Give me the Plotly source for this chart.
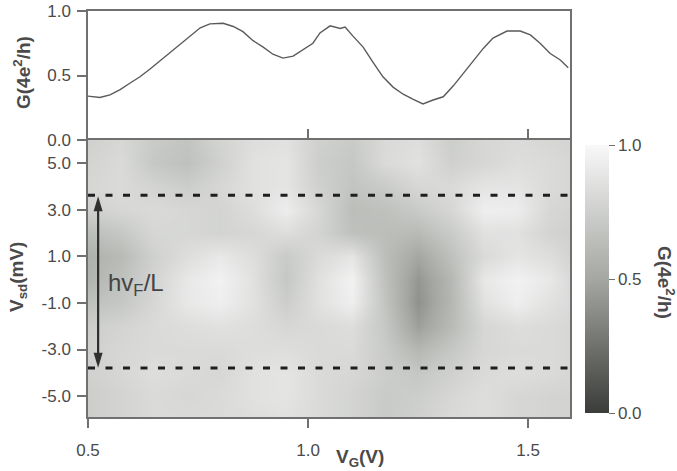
import plotly.graph_objects as go

# ---- data ----
vg_line = [0.500, 0.527, 0.550, 0.573, 0.595, 0.618, 0.641, 0.664, 0.686, 0.709,
           0.732, 0.755, 0.777, 0.807, 0.830, 0.852, 0.875, 0.898, 0.920, 0.943,
           0.966, 0.989, 1.011, 1.027, 1.050, 1.073, 1.084, 1.102, 1.125, 1.148,
           1.170, 1.193, 1.216, 1.239, 1.261, 1.284, 1.307, 1.330, 1.352, 1.375,
           1.398, 1.420, 1.452, 1.482, 1.505, 1.527, 1.550, 1.573, 1.591]
g_line = [0.34, 0.33, 0.35, 0.39, 0.44, 0.49, 0.55, 0.615, 0.67, 0.74,
          0.805, 0.87, 0.90, 0.905, 0.88, 0.84, 0.77, 0.72, 0.665, 0.635,
          0.65, 0.70, 0.75, 0.83, 0.885, 0.865, 0.875, 0.805, 0.72, 0.60,
          0.49, 0.41, 0.355, 0.315, 0.28, 0.31, 0.335, 0.42, 0.515, 0.605,
          0.71, 0.79, 0.845, 0.845, 0.815, 0.75, 0.67, 0.62, 0.56]

vg_grid = [0.50, 0.575, 0.65, 0.725, 0.80, 0.875, 0.95, 1.025, 1.10, 1.175,
           1.25, 1.325, 1.40, 1.475, 1.55, 1.595]
vsd_grid = [6, 5, 4, 3, 2, 1, 0, -1, -2, -3, -4, -5, -6]
g_map = [
    [0.76, 0.80, 0.72, 0.68, 0.78, 0.84, 0.86, 0.76, 0.72, 0.82, 0.84, 0.74, 0.80, 0.82, 0.80, 0.78],
    [0.78, 0.82, 0.70, 0.66, 0.76, 0.86, 0.88, 0.74, 0.70, 0.82, 0.86, 0.76, 0.80, 0.84, 0.82, 0.80],
    [0.80, 0.82, 0.78, 0.74, 0.80, 0.86, 0.88, 0.76, 0.68, 0.72, 0.80, 0.82, 0.88, 0.88, 0.82, 0.80],
    [0.76, 0.80, 0.82, 0.80, 0.78, 0.84, 0.93, 0.80, 0.64, 0.66, 0.72, 0.80, 0.94, 0.93, 0.80, 0.78],
    [0.64, 0.70, 0.80, 0.80, 0.78, 0.80, 0.84, 0.78, 0.66, 0.64, 0.62, 0.72, 0.86, 0.86, 0.78, 0.76],
    [0.56, 0.62, 0.76, 0.84, 0.90, 0.84, 0.72, 0.82, 0.88, 0.64, 0.50, 0.66, 0.82, 0.88, 0.84, 0.78],
    [0.58, 0.66, 0.78, 0.90, 0.96, 0.86, 0.70, 0.86, 0.96, 0.66, 0.42, 0.60, 0.90, 0.96, 0.90, 0.82],
    [0.66, 0.70, 0.80, 0.90, 0.94, 0.86, 0.74, 0.86, 0.94, 0.68, 0.40, 0.60, 0.86, 0.94, 0.86, 0.82],
    [0.74, 0.78, 0.82, 0.84, 0.86, 0.84, 0.80, 0.82, 0.84, 0.70, 0.46, 0.62, 0.80, 0.84, 0.82, 0.80],
    [0.76, 0.80, 0.82, 0.82, 0.82, 0.84, 0.84, 0.82, 0.82, 0.72, 0.60, 0.70, 0.80, 0.82, 0.82, 0.80],
    [0.76, 0.80, 0.84, 0.82, 0.80, 0.86, 0.88, 0.82, 0.80, 0.74, 0.70, 0.76, 0.82, 0.84, 0.82, 0.80],
    [0.74, 0.78, 0.82, 0.80, 0.82, 0.86, 0.88, 0.82, 0.78, 0.72, 0.74, 0.80, 0.84, 0.80, 0.78, 0.78],
    [0.74, 0.78, 0.82, 0.82, 0.82, 0.84, 0.86, 0.82, 0.78, 0.72, 0.76, 0.82, 0.84, 0.80, 0.78, 0.78],
]
dash_levels = [3.63, -3.8]
arrow_x = 0.523
arrow_ends = [3.58, -3.78]

vsd_ticks = [-5, -3, -1, 1, 3, 5]
vsd_ticktext = ["-5.0", "-3.0", "-1.0", "1.0", "3.0", "5.0"]
vg_ticks = [0.5, 1.0, 1.5]
vg_ticktext = ["0.5", "1.0", "1.5"]
g_ticks = [0.0, 0.5, 1.0]
g_ticktext = ["0.0", "0.5", "1.0"]

# ---- style ----
FONT = "Liberation Sans, Arial, sans-serif"
TXT = "#4a4a4a"
AX = "#707070"
W, H = 677, 471


def px_x(p):
    return p / W


def px_y(p):
    return 1 - p / H


fig = go.Figure()

fig.add_trace(go.Scatter(x=vg_line, y=g_line, mode="lines",
                         line=dict(color="#5a5a5a", width=1.4),
                         xaxis="x", yaxis="y", showlegend=False, hoverinfo="skip"))

fig.add_trace(go.Heatmap(
    x=vg_grid, y=vsd_grid, z=g_map, zsmooth="best", zmin=0, zmax=1,
    colorscale=[[0, "#3a3c39"], [0.5, "#a4a7a2"], [1, "#f8f8f8"]],
    xaxis="x2", yaxis="y2", hoverinfo="skip",
    colorbar=dict(
        x=px_x(585), xanchor="left", xpad=0, ypad=0,
        y=px_y(413), yanchor="bottom", len=(413 - 145) / H, lenmode="fraction",
        thickness=24, outlinewidth=0,
        tickvals=g_ticks, ticktext=g_ticktext, ticks="outside", ticklen=6,
        tickcolor=AX, tickwidth=1.3,
        tickfont=dict(family=FONT, size=17, color=TXT),
    ),
))

for lvl in dash_levels:
    fig.add_trace(go.Scatter(x=[vg_grid[0], vg_grid[-1] - 0.005], y=[lvl, lvl], mode="lines",
                             line=dict(color="#1e1e1e", width=3, dash="7px,10.5px"),
                             xaxis="x2", yaxis="y2", showlegend=False, hoverinfo="skip"))

# double-headed arrow: shaft + two pixel-sized heads
fig.add_shape(type="line", xref="x2", yref="y2",
              x0=arrow_x, x1=arrow_x, y0=arrow_ends[1] + 0.3, y1=arrow_ends[0] - 0.3,
              line=dict(color="#303030", width=2.2))
fig.add_shape(type="path", xref="x2", yref="y2", xsizemode="pixel", ysizemode="pixel",
              xanchor=arrow_x, yanchor=arrow_ends[0], path="M0,0 L-4.5,-15 L4.5,-15 Z",
              fillcolor="#303030", line=dict(width=0))
fig.add_shape(type="path", xref="x2", yref="y2", xsizemode="pixel", ysizemode="pixel",
              xanchor=arrow_x, yanchor=arrow_ends[1], path="M0,0 L-4.5,15 L4.5,15 Z",
              fillcolor="#303030", line=dict(width=0))

axis_common = dict(showline=True, linecolor=AX, linewidth=1.5, mirror=True,
                   tickcolor=AX, tickwidth=1.5, showgrid=False, zeroline=False,
                   automargin=False,
                   tickfont=dict(family=FONT, size=17, color=TXT))

fig.update_layout(
    width=W, height=H, margin=dict(l=0, r=0, t=0, b=0, autoexpand=False),
    paper_bgcolor="white", plot_bgcolor="white",
    xaxis=dict(domain=[px_x(88), px_x(570)], range=[0.5, 1.595], anchor="y",
               tickvals=vg_ticks, ticks="inside", ticklen=11, showticklabels=False,
               **axis_common),
    yaxis=dict(domain=[px_y(140), px_y(11)], range=[0, 1], anchor="x",
               tickvals=g_ticks, ticktext=g_ticktext, ticks="outside", ticklen=9,
               ticklabelstandoff=3, **axis_common),
    xaxis2=dict(domain=[px_x(88), px_x(570)], range=[0.5, 1.595], anchor="y2",
                tickvals=vg_ticks, ticktext=vg_ticktext, ticks="outside", ticklen=9,
                ticklabelstandoff=8, **axis_common),
    yaxis2=dict(domain=[px_y(417), px_y(140)], range=[-5.9, 6.0], anchor="x2",
                tickvals=vsd_ticks, ticktext=vsd_ticktext, ticks="outside", ticklen=9,
                ticklabelstandoff=3, **axis_common),
    showlegend=False,
)

title_font = dict(family=FONT, size=19, color=TXT)
fig.add_annotation(text="<b>G(4e<sup>2</sup>/h)</b>", x=px_x(22), y=px_y(72),
                   xref="paper", yref="paper", showarrow=False, textangle=-90,
                   xanchor="center", yanchor="middle", font=title_font)
fig.add_annotation(text="<b>V<sub>sd</sub>(mV)</b>", x=px_x(18), y=px_y(277),
                   xref="paper", yref="paper", showarrow=False, textangle=-90,
                   xanchor="center", yanchor="middle", font=title_font)
fig.add_annotation(text="<b>V<sub>G</sub>(V)</b>", x=px_x(360), y=px_y(458),
                   xref="paper", yref="paper", showarrow=False,
                   xanchor="center", yanchor="middle", font=title_font)
fig.add_annotation(text="<b>G(4e<sup>2</sup>/h)</b>", x=px_x(666), y=px_y(282),
                   xref="paper", yref="paper", showarrow=False, textangle=90,
                   xanchor="center", yanchor="middle", font=title_font)
fig.add_annotation(text="hv<sub>F</sub>/L", x=px_x(106), y=px_y(284),
                   xref="paper", yref="paper", showarrow=False,
                   xanchor="left", yanchor="middle",
                   font=dict(family=FONT, size=24, color="#444444"))

fig.write_html("out.html")
